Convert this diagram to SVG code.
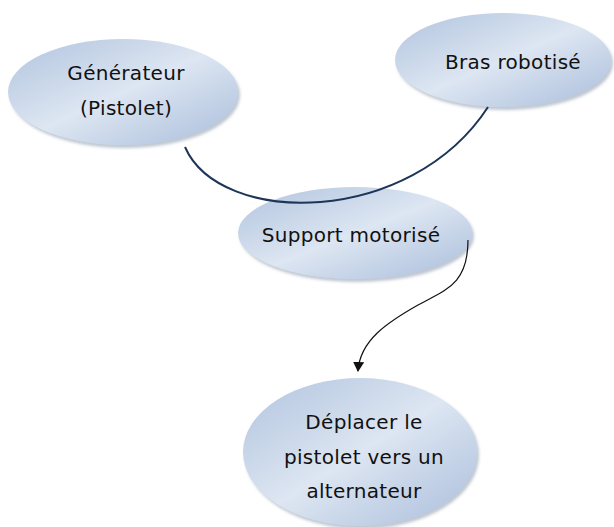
<svg xmlns="http://www.w3.org/2000/svg" width="614" height="527" viewBox="0 0 614 527">
<style>
.node ellipse{fill:url(#g);filter:url(#sh)}
.node text{font-family:"DejaVu Sans","Liberation Sans",sans-serif;font-size:20px;letter-spacing:0.3px;fill:#111;text-anchor:middle}
.c1{fill:none;stroke:#1d3557;stroke-width:2}
.c2{fill:none;stroke:#111;stroke-width:1.2}
</style>
<defs>
<linearGradient id="g" x1="0" y1="0" x2="1" y2="1">
<stop offset="0" stop-color="#b0c3de"/>
<stop offset="0.5" stop-color="#dde6f2"/>
<stop offset="1" stop-color="#a9bddb"/>
</linearGradient>
<filter id="sh" x="-10%" y="-10%" width="125%" height="130%">
<feDropShadow dx="2" dy="3" stdDeviation="1.5" flood-color="#7f8ea3" flood-opacity="0.5"/>
</filter>
<marker id="ar" markerWidth="12" markerHeight="12" refX="9" refY="5.5" orient="auto" markerUnits="userSpaceOnUse">
<path d="M0,0 L10,5.5 L0,11 z" fill="#111"/>
</marker>
</defs>
<g id="n-generateur" class="node">
<ellipse cx="123" cy="92" rx="115" ry="53"/>
<text x="126" y="80">Générateur</text>
<text x="126" y="115">(Pistolet)</text>
</g>
<g id="n-bras" class="node">
<ellipse cx="503" cy="60" rx="108" ry="47"/>
<text x="513" y="69">Bras robotisé</text>
</g>
<g id="n-support" class="node">
<ellipse cx="355" cy="233" rx="117" ry="46"/>
<text x="351" y="242">Support motorisé</text>
</g>
<g id="n-deplacer" class="node">
<ellipse cx="360" cy="452" rx="117" ry="74"/>
<text x="364" y="429">Déplacer le</text>
<text x="364" y="464">pistolet vers un</text>
<text x="364" y="498">alternateur</text>
</g>
<g id="connectors">
<path class="c1" d="M185,147 C220,227 410,227 488,107"/>
<path class="c2" d="M468,240 C468,285 445,290 418,305 C388,322 360,340 358,371" marker-end="url(#ar)"/>
</g>
</svg>
